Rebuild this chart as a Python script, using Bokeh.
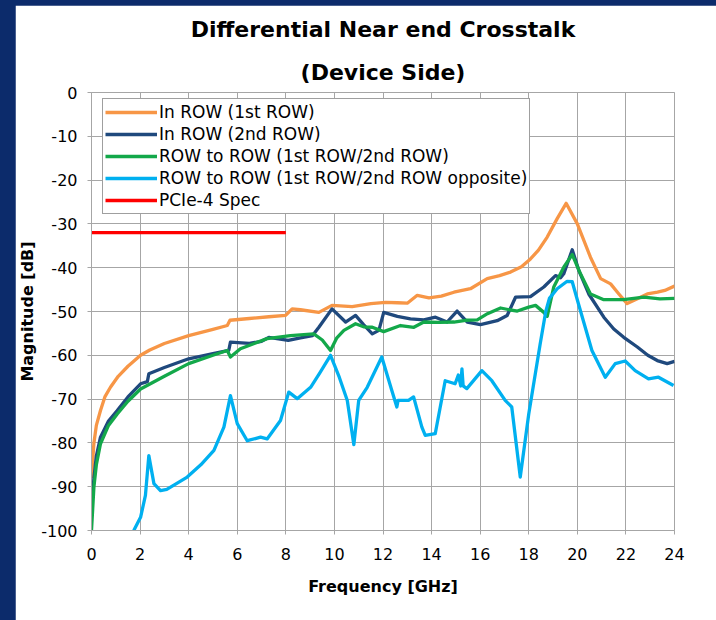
from bokeh.plotting import figure
from bokeh.models import Title, Legend, LegendItem, FixedTicker, Range1d, GlobalInlineStyleSheet
from bokeh.embed import file_html
from bokeh.resources import INLINE

# ---- data ----
x_ticks = list(range(0, 25, 2))
y_ticks = list(range(-100, 1, 10))
y_tick_labels = ["-100", "-90", "-80", "-70", "-60", "-50", "-40", "-30", "-20", "-10", "0"]

labels = ["In ROW (1st ROW)", "In ROW (2nd ROW)", "ROW to ROW (1st ROW/2nd ROW)",
          "ROW to ROW (1st ROW/2nd ROW opposite)", "PCIe-4 Spec"]
colors = ["#f79646", "#1f497d", "#13a84a", "#00b0f0", "#ff0000"]

row1_f = [0.0, 0.1, 0.2, 0.37, 0.55, 0.78, 1.1, 1.5, 2.02, 2.4, 3.0, 4.0, 5.0, 5.59, 5.7, 6.5,
          7.3, 7.99, 8.26, 8.6, 9.36, 9.9, 10.73, 11.5, 12.1, 12.6, 13.0, 13.41, 13.89, 14.4,
          14.92, 15.6, 16.29, 16.8, 17.25, 17.7, 18.07, 18.4, 18.76, 19.17, 19.54, 20.0, 20.54,
          20.96, 21.37, 21.71, 22.05, 22.47, 22.88, 23.3, 23.6, 24.0]
row1_db = [-88, -80, -76, -72.6, -69.5, -67.3, -64.8, -62.5, -60.0, -58.8, -57.3, -55.5, -54.1,
           -53.2, -52.0, -51.6, -51.2, -50.9, -49.4, -49.6, -50.2, -48.6, -48.9, -48.2, -47.9,
           -48.0, -48.1, -46.3, -46.9, -46.5, -45.6, -44.8, -42.5, -41.8, -41.0, -39.8, -38.0,
           -36.0, -33.0, -28.8, -25.3, -30.0, -37.6, -42.5, -43.7, -46.0, -48.2, -47.1, -46.0,
           -45.6, -45.2, -44.2]

row2_f = [0.0, 0.1, 0.2, 0.37, 0.7, 1.06, 1.5, 2.02, 2.3, 2.36, 3.0, 4.0, 5.0, 5.65, 5.72, 6.5,
          7.0, 7.3, 8.1, 8.6, 9.1, 9.36, 9.9, 10.46, 10.87, 11.2, 11.56, 11.83, 12.03, 12.59,
          13.13, 13.68, 14.16, 14.64, 15.05, 15.47, 16.01, 16.7, 17.11, 17.46, 18.07, 18.62,
          19.1, 19.31, 19.44, 19.79, 20.06, 20.47, 21.09, 21.5, 21.91, 22.47, 22.9, 23.29,
          23.7, 24.0]
row2_db = [-95.4, -88, -83, -78.7, -75, -72.6, -69.5, -66.5, -66.0, -64.2, -62.8, -60.8, -59.6,
           -58.9, -57.0, -57.3, -56.8, -55.9, -56.6, -56.0, -55.5, -53.6, -49.4, -52.4, -50.9,
           -53.0, -55.1, -54.3, -50.2, -51.1, -51.7, -51.9, -51.3, -52.4, -49.9, -52.4, -53.0,
           -52.1, -50.9, -46.7, -46.6, -44.4, -41.8, -42.3, -41.4, -35.9, -40.6, -46.0, -51.3,
           -54.0, -55.9, -58.1, -60.0, -61.2, -61.9, -61.4]

r2r_f = [0.0, 0.1, 0.2, 0.37, 0.7, 1.06, 1.5, 2.02, 3.0, 4.0, 5.0, 5.59, 5.72, 6.13, 6.7, 7.23,
         8.19, 9.15, 9.5, 9.84, 10.1, 10.39, 10.87, 11.2, 11.56, 12.03, 12.72, 13.27, 13.68,
         14.3, 14.92, 15.4, 15.88, 16.3, 16.84, 17.2, 17.53, 18.0, 18.28, 18.62, 18.76, 19.03,
         19.44, 19.79, 20.13, 20.54, 21.09, 21.91, 22.74, 23.4, 24.0]
r2r_db = [-100, -90, -85, -80.2, -76, -73.4, -70.5, -67.7, -64.8, -61.9, -60.0, -58.9, -60.4,
          -58.5, -57.3, -56.2, -55.5, -55.1, -56.5, -58.9, -56.0, -54.3, -52.8, -53.5, -53.6,
          -54.6, -53.2, -53.6, -52.4, -52.5, -52.4, -52.0, -51.9, -50.5, -49.2, -49.6, -49.9,
          -49.0, -48.6, -50.2, -51.1, -44.4, -39.9, -37.0, -41.4, -46.0, -47.3, -47.3, -46.7,
          -47.1, -47.0]

opp_f = [1.74, 2.02, 2.22, 2.36, 2.57, 2.84, 3.1, 3.94, 4.5, 5.04, 5.45, 5.72, 6.0, 6.41, 6.96,
         7.23, 7.78, 8.12, 8.47, 9.02, 9.4, 9.84, 10.2, 10.53, 10.8, 11.0, 11.35, 11.95, 12.36,
         12.57, 12.62, 13.05, 13.26, 13.6, 13.74, 14.15, 14.56, 14.97, 15.1, 15.2, 15.25,
         15.3, 15.45, 16.07, 16.48, 17.03, 17.3, 17.65, 18.0, 18.47, 18.7, 18.85, 19.17,
         19.58, 19.79, 20.06, 20.6, 21.15, 21.56, 21.97, 22.38, 22.93, 23.34, 23.96]
opp_db = [-100, -97, -92, -82.9, -89.3, -90.9, -90.6, -87.8, -85.0, -81.7, -76.4, -69.2, -75.6,
          -79.5, -78.7, -79.1, -74.9, -68.4, -69.9, -67.3, -64.0, -60.0, -65.0, -70.3, -80.4,
          -70.3, -67.3, -60.4, -68.0, -71.8, -70.3, -70.3, -69.5, -76.4, -78.3, -77.9, -65.8,
          -66.5, -64.5, -67.0, -63.1, -67.0, -67.6, -63.5, -65.8, -70.3, -71.8, -87.8, -73.4,
          -57.4, -50.0, -47.0, -44.8, -43.1, -43.2, -48.5, -58.9, -65.0, -61.9, -61.3, -63.5,
          -65.4, -65.0, -66.9]

spec_f = [0, 8]
spec_db = [-32, -32]

series = [(row1_f, row1_db), (row2_f, row2_db), (r2r_f, r2r_db), (opp_f, opp_db), (spec_f, spec_db)]

FONT = "DejaVu Sans"
GRID = "#a6a6a6"

p = figure(width=701, height=615, output_backend="svg", toolbar_location=None,
           x_range=Range1d(0, 24), y_range=Range1d(-100, 0),
           min_border_left=76, min_border_right=42, min_border_top=87, min_border_bottom=90,
           background_fill_color="white", border_fill_color="white",
           outline_line_color=GRID, outline_line_width=1)

p.stylesheets = [GlobalInlineStyleSheet(
    css="html, body { background: #0c2b6b; overflow: hidden; } body { margin: 5px 0 0 15px !important; }")]

p.add_layout(Title(text="(Device Side)", align="center", text_font=FONT, text_font_size="22px",
                   text_font_style="bold", text_color="#000000", standoff=16), "above")
p.add_layout(Title(text="Differential Near end Crosstalk", align="center", text_font=FONT,
                   text_font_size="22px", text_font_style="bold", text_color="#000000",
                   standoff=16), "above")

renderers = []
for (fx, fy), c in zip(series, colors):
    r = p.line(fx, fy, line_color=c, line_width=3.3, line_join="round")
    renderers.append(r)

p.xaxis.ticker = FixedTicker(ticks=x_ticks)
p.yaxis.ticker = FixedTicker(ticks=y_ticks)
p.xgrid.ticker = FixedTicker(ticks=x_ticks)
p.ygrid.ticker = FixedTicker(ticks=y_ticks)
p.yaxis.major_label_overrides = {t: s for t, s in zip(y_ticks, y_tick_labels)}
p.grid.grid_line_color = GRID
p.grid.grid_line_width = 1

for ax in (p.xaxis[0], p.yaxis[0]):
    ax.axis_line_color = GRID
    ax.major_tick_line_color = GRID
    ax.major_tick_in = 0
    ax.major_tick_out = 4
    ax.minor_tick_line_color = None
    ax.major_label_text_font = FONT
    ax.major_label_text_font_size = "16px"
    ax.major_label_text_color = "#000000"
    ax.axis_label_text_font = FONT
    ax.axis_label_text_font_size = "16px"
    ax.axis_label_text_font_style = "bold"
    ax.axis_label_text_color = "#000000"

p.xaxis.axis_label = "Frequency [GHz]"
p.yaxis.axis_label = "Magnitude [dB]"
p.xaxis.major_label_standoff = 13
p.yaxis.major_label_standoff = 10
p.xaxis.axis_label_standoff = 14
p.yaxis.axis_label_standoff = 1

legend = Legend(items=[LegendItem(label=l, renderers=[r]) for l, r in zip(labels, renderers)],
                location=(11, 316), orientation="vertical")
legend.margin = 0
legend.padding = 2
legend.spacing = 0
legend.label_height = 22
legend.glyph_height = 22
legend.glyph_width = 52
legend.label_standoff = 2
legend.label_text_font = FONT
legend.label_text_font_size = "17px"
legend.label_text_color = "#000000"
legend.border_line_color = "#404040"
legend.border_line_width = 1
legend.background_fill_alpha = 1.0
p.add_layout(legend, "center")

open("out.html", "w").write(file_html(p, INLINE))
